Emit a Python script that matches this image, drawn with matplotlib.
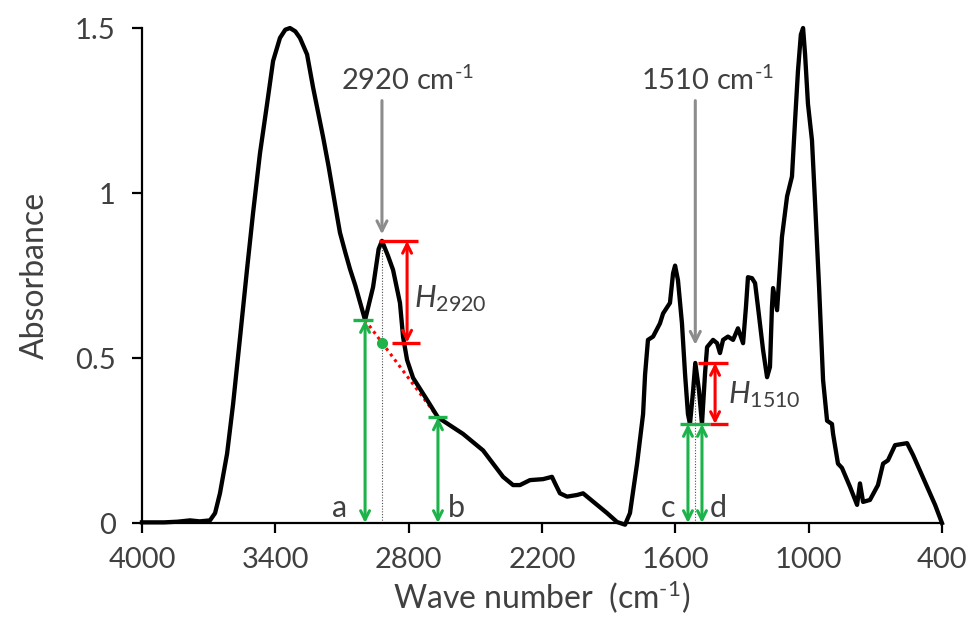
#
#  plot.py
#
#  FTIR absorbance spectrum with baseline-corrected band heights
#  H2920 and H1510 marked on it
#
################################################################

import matplotlib
matplotlib.use("Agg")
import matplotlib.pyplot as plt

plt.rcParams['font.family'] = ['Lato', 'DejaVu Sans']
plt.rcParams['mathtext.fontset'] = 'custom'
plt.rcParams['mathtext.rm'] = 'Lato'
plt.rcParams['mathtext.it'] = 'Lato:italic'

#  spectrum
wavenumber = [4000, 3900, 3840, 3784, 3740, 3694, 3671, 3649, 3617, 3590,
              3559, 3527, 3500, 3469, 3437, 3410, 3379, 3355, 3334, 3310,
              3289, 3257, 3230, 3185, 3160, 3140, 3122, 3109, 3085, 3064,
              3040, 3019, 2996, 2960, 2935, 2920, 2893, 2870, 2839, 2825,
              2807, 2780, 2717, 2668, 2555, 2465, 2375, 2330, 2299, 2254,
              2195, 2155, 2141, 2119, 2087, 2042, 2015, 1970, 1907, 1862,
              1826, 1804, 1772, 1745, 1736, 1723, 1700, 1669, 1655, 1624,
              1610, 1601, 1588, 1570, 1556, 1543, 1534, 1520, 1510, 1493,
              1480, 1466, 1457, 1430, 1412, 1399, 1385, 1363, 1340, 1318,
              1295, 1282, 1273, 1255, 1241, 1228, 1205, 1187, 1174, 1165,
              1160, 1142, 1133, 1120, 1097, 1075, 1061, 1048, 1035, 1025,
              1016, 1003, 985, 971, 953, 935, 917, 895, 890, 868,
              850, 814, 782, 769, 755, 724, 688, 665, 643, 611,
              557, 530, 467, 431, 400]
absorbance = [0.002, 0.002, 0.004, 0.008, 0.005, 0.008, 0.03, 0.09, 0.21, 0.36,
              0.56, 0.77, 0.94, 1.12, 1.27, 1.40, 1.47, 1.495, 1.50, 1.49,
              1.47, 1.42, 1.32, 1.17, 1.08, 1.00, 0.93, 0.88, 0.82, 0.77,
              0.72, 0.67, 0.615, 0.715, 0.83, 0.855, 0.81, 0.767, 0.667, 0.564,
              0.494, 0.44, 0.373, 0.32, 0.27, 0.22, 0.14, 0.115, 0.115, 0.13,
              0.133, 0.14, 0.12, 0.09, 0.08, 0.085, 0.09, 0.065, 0.03, 0.003,
              -0.005, 0.03, 0.18, 0.33, 0.45, 0.555, 0.565, 0.605, 0.635, 0.667,
              0.757, 0.78, 0.736, 0.605, 0.45, 0.33, 0.30, 0.40, 0.485, 0.40,
              0.30, 0.455, 0.533, 0.555, 0.545, 0.515, 0.555, 0.565, 0.555, 0.59,
              0.545, 0.655, 0.745, 0.742, 0.727, 0.655, 0.524, 0.442, 0.473, 0.655,
              0.712, 0.645, 0.736, 0.867, 0.99, 1.05, 1.22, 1.37, 1.48, 1.50,
              1.42, 1.27, 1.16, 0.97, 0.715, 0.433, 0.31, 0.30, 0.27, 0.18,
              0.167, 0.11, 0.055, 0.12, 0.064, 0.07, 0.115, 0.18, 0.19, 0.236,
              0.242, 0.206, 0.11, 0.055, 0.0]

xticks = [4000, 3400, 2800, 2200, 1600, 1000, 400]
yticks = [0, 0.5, 1, 1.5]
yticklabels = ['0', '0.5', '1', '1.5']

#  band 2920: baseline points a, b and peak
peak1 = (2920, 0.855)
pa = (2996, 0.615)
pb = (2668, 0.32)
#  band 1510: baseline points c, d and peak
peak2 = (1510, 0.485)
pc = (1543, 0.30)
pd = (1480, 0.30)

txt = '#404040'
green = '#1db34a'
red = '#ff0000'
grey = '#8c8c8c'
inv = 'cm$^{\\text{-}1}$'

fig = plt.figure(figsize=(9.71, 6.26), dpi=100)
ax = fig.add_axes([0.1462, 0.1645, 0.8239, 0.7907])

ax.plot(wavenumber, absorbance, color='k', lw=3.1, clip_on=False,
        solid_joinstyle='round', zorder=3)

ax.set_xlim(4000, 400)
ax.set_ylim(0, 1.5)
ax.set_xticks(xticks)
ax.set_yticks(yticks)
ax.set_yticklabels(yticklabels)
for s in ['top', 'right']:
    ax.spines[s].set_visible(False)
for s in ['left', 'bottom']:
    ax.spines[s].set_linewidth(1.6)
ax.tick_params(axis='both', length=7, width=1.6, labelsize=21, labelcolor=txt)
ax.tick_params(axis='x', pad=10)
ax.tick_params(axis='y', pad=12)
ax.set_xlabel('Wave number  (' + inv + ')', fontsize=23, color=txt,
              labelpad=4)
ax.set_ylabel('Absorbance', fontsize=23, color=txt, labelpad=18)

#  baseline between a and b, and its value under the peak
slope = (pb[1] - pa[1]) / (pb[0] - pa[0])
base1 = pa[1] + slope * (peak1[0] - pa[0])
ax.plot([pa[0], pb[0]], [pa[1], pb[1]], color=red, lw=2.2, ls=(0, (1, 1.3)),
        zorder=2)
ax.plot([peak1[0]], [base1], 'o', color=green, ms=7, zorder=4)

#  thin dotted guides down from the peaks
ax.plot([peak1[0], peak1[0]], [0, peak1[1]], color='#505050', lw=0.8,
        ls=(0, (1, 1.5)), zorder=1)
ax.plot([peak2[0], peak2[0]], [0, peak2[1]], color='#505050', lw=0.8,
        ls=(0, (1, 1.5)), zorder=1)

def darrow(x, y0, y1, col):
    ax.annotate('', xy=(x, y0), xytext=(x, y1),
                arrowprops=dict(arrowstyle='<->', color=col, lw=2.2,
                                mutation_scale=16, shrinkA=0, shrinkB=0),
                zorder=4)

def cap(x0, x1, y, col):
    ax.plot([x0, x1], [y, y], color=col, lw=2.4, solid_capstyle='butt',
            zorder=4)

#  green heights of the baseline points
for p in [pa, pb, pc, pd]:
    darrow(p[0], 0, p[1], green)
cap(pa[0] + 54, pa[0] - 36, pa[1], green)
cap(pb[0] + 45, pb[0] - 41, pb[1], green)
cap(pc[0] + 36, pd[0] - 36, pc[1], green)

#  red band heights
cap(peak1[0] + 14, peak1[0] - 162, peak1[1], red)
cap(peak1[0] - 45, peak1[0] - 171, base1, red)
darrow(2807, base1, peak1[1], red)
ax.text(2775, 0.68, '$\\mathit{H_{2920}}$', fontsize=22, color=txt,
        va='center', ha='left')

cap(peak2[0] - 10, peak2[0] - 147, peak2[1], red)
cap(1444, 1363, pc[1], red)
darrow(1421, pc[1], peak2[1], red)
ax.text(1365, 0.39, '$\\mathit{H_{1510}}$', fontsize=22, color=txt,
        va='center', ha='left')

#  grey pointers to the bands
for (x, y), lab, tx in [(peak1, '2920 ' + inv, 2807),
                        ((peak2[0], 0.52), '1510 ' + inv, 1457)]:
    ax.annotate('', xy=(x, y + 0.02), xytext=(x, 1.28),
                arrowprops=dict(arrowstyle='->', color=grey, lw=2.2,
                                mutation_scale=18, shrinkA=0, shrinkB=0))
    ax.text(tx, 1.34, lab, fontsize=21, color=txt, ha='center',
            va='center')

#  point letters
for x, lab in [(3109, 'a'), (2587, 'b'), (1633, 'c'), (1405, 'd')]:
    ax.text(x, 0.045, lab, fontsize=22, color=txt, ha='center',
            va='center')

plt.savefig('out.png', dpi=100)
